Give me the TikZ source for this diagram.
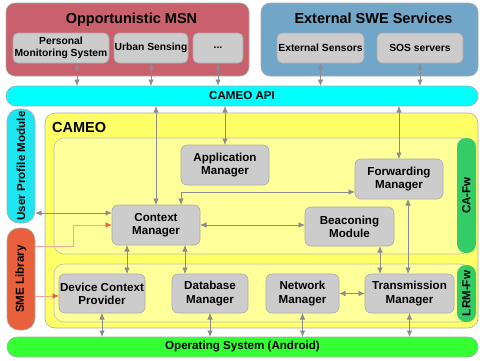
\documentclass[tikz,border=0pt]{standalone}
\usepackage{fontspec}
\setmainfont{Liberation Sans}
\usepackage{tikz}
\usetikzlibrary{arrows.meta,calc}

\definecolor{msnred}{HTML}{C8616B}
\definecolor{sweblue}{HTML}{71A6C8}
\definecolor{apicyan}{HTML}{00FFFF}
\definecolor{upcyan}{HTML}{1EE6F0}
\definecolor{smeorange}{HTML}{E9603D}
\definecolor{cameoyellow}{HTML}{FFFF66}
\definecolor{fwyellow}{HTML}{FFFF99}
\definecolor{fwgreen}{HTML}{33CC66}
\definecolor{osgreen}{HTML}{33FF33}
\definecolor{modgray}{HTML}{CCCCCC}
\definecolor{linegray}{HTML}{8C8C8C}
\definecolor{edgegray}{HTML}{ABABAB}

\tikzset{
  area/.style={draw=edgegray, rounded corners=9pt, inner sep=0pt, outer sep=0pt, line width=0.6pt},
  bar/.style={area, rounded corners=10pt, font=\fontsize{11.6}{13}\selectfont\bfseries},
  barlabel/.style={inner sep=0pt, font=\fontsize{11.6}{13}\selectfont\bfseries},
  module/.style={draw=edgegray, fill=modgray, rounded corners=6pt, inner sep=0pt, outer sep=0pt, line width=0.6pt, align=center, font=\fontsize{11.6}{13.3}\selectfont\bfseries},
  service/.style={module, rounded corners=5pt, font=\fontsize{10.3}{11.7}\selectfont\bfseries},
  heading/.style={inner sep=0pt, font=\fontsize{14.5}{16}\selectfont\bfseries},
  link/.style={draw=linegray, line width=0.8pt, {Latex[length=6.5pt,width=5.5pt]}-{Latex[length=6.5pt,width=5.5pt]}},
  smelink/.style={draw=smeorange!55, line width=0.8pt, -{Latex[length=6.5pt,width=5.5pt,color=smeorange]}},
}

\begin{document}
\begin{tikzpicture}[x=1pt,y=1pt,yscale=-1,xscale=1]
\useasboundingbox (0,0) rectangle (480,360);

%Rounded Rect
\node (msn) [area, fill=msnred, minimum width=243pt, minimum height=73pt] at (127.5,39.5) {};
\node (swe) [area, fill=sweblue, minimum width=217pt, minimum height=73pt] at (369.5,39.5) {};
% Text Node
\node (msntitle) [heading, anchor=base] at ($(msn.north)+(4,20)$) {Opportunistic MSN};
\node (swetitle) [heading, anchor=base] at ($(swe.north)+(4,20)$) {External SWE Services};

% Text Node
\node (pms) [service, minimum width=96pt, minimum height=30pt] at (61,48) {Personal\\Monitoring System};
\node (urban) [service, minimum width=74pt, minimum height=30pt] at (151,48) {Urban Sensing};
\node (more) [service, minimum width=50pt, minimum height=30pt] at (218,48) {...};
\node (extsens) [service, minimum width=87pt, minimum height=30pt] at (320.5,48) {External Sensors};
\node (sos) [service, minimum width=86pt, minimum height=30pt] at (420,48) {SOS servers};

%Rounded Rect
\node (api) [bar, fill=apicyan, minimum width=472pt, minimum height=20pt] at (242,96) {CAMEO API};
\node (upm) [bar, fill=upcyan, rounded corners=12pt, minimum width=28pt, minimum height=114pt] at (21,166) {};
\node (upmtext) [barlabel, rotate=90] at (upm) {User Profile Module};
\node (sme) [bar, fill=smeorange, rounded corners=12pt, minimum width=28pt, minimum height=102pt] at (21,279) {};
\node (smetext) [barlabel, rotate=90] at (sme) {SME Library};

%Rounded Rect
\node (cameo) [area, fill=cameoyellow, rounded corners=10pt, minimum width=433pt, minimum height=215pt] at (261.5,220.5) {};
\node (cameotitle) [heading, anchor=base west] at ($(cameo.north west)+(7,19)$) {CAMEO};
\node (capanel) [area, draw=edgegray!80, fill=fwyellow, rounded corners=10pt, minimum width=416pt, minimum height=116pt] at (262,196) {};
\node (lrmpanel) [area, draw=edgegray!80, fill=fwyellow, rounded corners=10pt, minimum width=416pt, minimum height=58pt] at (262,293) {};
\node (cabar) [bar, draw=none, fill=fwgreen, rounded corners=9pt, minimum width=19pt, minimum height=115pt] at (466.5,195.5) {};
\node (catext) [barlabel, rotate=90] at (cabar) {CA-Fw};
\node (lrmbar) [bar, draw=none, fill=fwgreen, rounded corners=9pt, minimum width=19pt, minimum height=57pt] at (466.5,293.5) {};
\node (lrmtext) [barlabel, rotate=90] at (lrmbar) {LRM-Fw};

%Rounded Rect
\node (os) [bar, fill=osgreen, minimum width=471pt, minimum height=20pt] at (242.5,347) {Operating System (Android)};

% Text Node
\node (appm) [module, minimum width=88pt, minimum height=40pt] at (225,165) {Application\\Manager};
\node (cm) [module, minimum width=88pt, minimum height=40pt] at (156,225) {Context\\Manager};
\node (bm) [module, minimum width=89pt, minimum height=39pt] at (349.5,226.5) {Beaconing\\Module};
\node (fm) [module, minimum width=88pt, minimum height=40pt] at (399,179) {Forwarding\\Manager};
\node (dcp) [module, minimum width=86pt, minimum height=39pt] at (102,293.5) {Device Context\\Provider};
\node (dbm) [module, minimum width=76pt, minimum height=39pt] at (210,293.5) {Database\\Manager};
\node (nm) [module, minimum width=73pt, minimum height=39pt] at (302.5,293.5) {Network\\Manager};
\node (tm) [module, minimum width=89pt, minimum height=39pt] at (409.5,293.5) {Transmission\\Manager};

%Straight Lines
\coordinate (pmsx) at ($(pms.south)+(16,0)$);
\draw [link] (pmsx) -- (pmsx |- api.north);
\draw [link] (urban.south) -- (urban.south |- api.north);
\draw [link] (more.south) -- (more.south |- api.north);
\draw [link] (extsens.south) -- (extsens.south |- api.north);
\draw [link] (sos.south) -- (sos.south |- api.north);

%Straight Lines
\draw [link] (api.south -| cm.north) -- (cm.north);
\draw [link] (api.south -| appm.north) -- (appm.north);
\draw [link] (api.south -| fm.north) -- (fm.north);
\coordinate (cmx) at ($(cm.north)+(25,0)$);
\coordinate (fmy) at ($(fm.west)+(0,13)$);
\draw [link] (cmx) |- (fmy);
\draw [link] (cm.east) -- (cm.east -| bm.west);
\coordinate (cmup) at ($(cm.west)+(0,-12)$);
\draw [link] (upm.east |- cmup) -- (cmup);

%Straight Lines
\coordinate (smeout) at ($(sme.east)+(0,-33)$);
\coordinate (smebend) at ($(cm.west)+(-39,0)$);
\draw [smelink] (smeout) -| (smebend) -- (cm.west);
\coordinate (dcpin) at ($(dcp.west)+(0,2.5)$);
\draw [smelink] (sme.east |- dcpin) -- (dcpin);

%Straight Lines
\coordinate (cmdl) at ($(cm.south)+(-29,0)$);
\draw [link] (cmdl) -- (cmdl |- dcp.north);
\coordinate (cmdr) at ($(cm.south)+(29,0)$);
\draw [link] (cmdr) -- (cmdr |- dbm.north);
\coordinate (bmx) at ($(bm.south)+(30.5,0)$);
\draw [link] (bmx) -- (bmx |- tm.north);
\coordinate (fmx) at ($(fm.south)+(9,0)$);
\draw [link] (fmx) -- (fmx |- tm.north);
\draw [link] (nm.east) -- (tm.west);

%Straight Lines
\draw [link] (dcp.south) -- (dcp.south |- os.north);
\draw [link] (dbm.south) -- (dbm.south |- os.north);
\draw [link] (nm.south) -- (nm.south |- os.north);
\draw [link] (tm.south) -- (tm.south |- os.north);
\end{tikzpicture}
\end{document}
